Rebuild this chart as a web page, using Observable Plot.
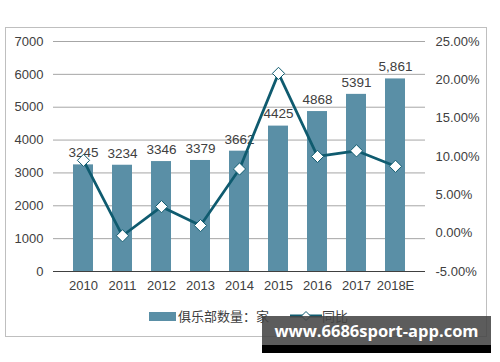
<!DOCTYPE html>
<html>
<head>
<meta charset="utf-8">
<script src="https://cdn.jsdelivr.net/npm/d3@7"></script>
<script src="https://cdn.jsdelivr.net/npm/@observablehq/plot@0.6"></script>
<style>
  html, body { margin: 0; padding: 0; background: #fff; }
  #wrap { position: relative; width: 500px; height: 362px; overflow: hidden; font-family: "Liberation Sans", Arial, sans-serif; }
  #frame { position: absolute; left: 5px; top: 27px; width: 482px; height: 310px; border: 1px solid #bfbfbf; box-sizing: border-box; }
  #chart { position: absolute; left: 0; top: 0; }
  #legend { position: absolute; left: 0; top: 306px; width: 500px; height: 20px; font-family: "Noto Sans CJK SC", sans-serif; font-size: 13px; color: #404040; }
  .sw { position: absolute; }
  #wm { position: absolute; left: 262px; top: 316px; width: 229px; height: 29px; background: rgba(70,70,70,0.88); color: #fff; font-family: "Open Sans", "DejaVu Sans", sans-serif; font-weight: bold; font-size: 16.5px; line-height: 29px; text-align: center; white-space: nowrap; }
  #wmb { position: absolute; left: 262px; top: 345px; width: 229px; height: 8px; background: #000; }
</style>
</head>
<body>
<div id="wrap">
  <div id="frame"></div>
  <div id="chart"></div>
  <div id="legend"></div>
  <div id="wm">www.6686sport-app.com</div>
  <div id="wmb"></div>
</div>
<script>
const years = ["2010","2011","2012","2013","2014","2015","2016","2017","2018E"];
const clubs = [3245, 3234, 3346, 3379, 3662, 4425, 4868, 5391, 5861];
const clubLabels = ["3245","3234","3346","3379","3662","4425","4868","5391","5,861"];
const growth = [9.5, -0.34, 3.46, 0.99, 8.37, 20.84, 10.01, 10.74, 8.72];
const leftTicks = [0,1000,2000,3000,4000,5000,6000,7000];
const rightTicks = [-5,0,5,10,15,20,25];
const seriesNames = ["俱乐部数量：家", "同比"];

const Y_MAX = 7000, P_MIN = -5, P_MAX = 25;
const pctToY = p => (p - P_MIN) / (P_MAX - P_MIN) * Y_MAX;
const yToPct = y => y / Y_MAX * (P_MAX - P_MIN) + P_MIN;

const rows = years.map((y, i) => ({year: y, clubs: clubs[i], label: clubLabels[i], growth: growth[i], gy: pctToY(growth[i])}));

const barColor = "#5a8fa6";
const lineColor = "#0f5b6f";
const txt = "#404040";

const chart = Plot.plot({
  width: 500,
  height: 362,
  marginLeft: 53,
  marginRight: 75,
  marginTop: 41,
  marginBottom: 91,
  style: {fontFamily: "'Liberation Sans', Arial, sans-serif", fontSize: "13px", color: txt, background: "transparent"},
  x: {domain: years, padding: 0.5, label: null},
  y: {domain: [0, Y_MAX], label: null},
  marks: [
    Plot.ruleY(leftTicks.filter(d => d > 0), {stroke: "#a6a6a6", strokeWidth: 1}),
    Plot.barY(rows, {x: "year", y: "clubs", fill: barColor}),
    Plot.ruleY([0], {stroke: "#404040", strokeWidth: 1}),
    Plot.text(rows, {x: "year", y: "clubs", text: "label", dy: -12, fill: txt, fontSize: 13.5}),
    Plot.line(rows, {x: "year", y: "gy", stroke: lineColor, strokeWidth: 2.75}),
    Plot.dot(rows, {x: "year", y: "gy", symbol: "diamond2", r: 5.5, fill: "#fff", stroke: lineColor, strokeWidth: 1}),
    Plot.axisY(leftTicks, {anchor: "left", tickSize: 0, tickPadding: 10, label: null, fontSize: 13, tickFormat: d => String(d)}),
    Plot.axisY(rightTicks.map(pctToY), {anchor: "right", tickSize: 0, tickPadding: 10, label: null, fontSize: 13, tickFormat: d => yToPct(d).toFixed(2) + "%"}),
    Plot.axisX({tickSize: 0, tickPadding: 9, label: null, fontSize: 13})
  ]
});
document.getElementById("chart").appendChild(chart);

// legend
const legend = document.getElementById("legend");
legend.innerHTML =
  `<div class="sw" style="left:149px;top:6px;width:27px;height:9px;background:${barColor}"></div>` +
  `<div class="sw" style="left:178px;top:0px;line-height:20px;white-space:nowrap">${seriesNames[0]}</div>` +
  `<svg class="sw" style="left:290px;top:0px" width="32" height="20"><line x1="0" x2="32" y1="10" y2="10" stroke="${lineColor}" stroke-width="3"/><path d="M16,5.5L20.5,10L16,14.5L11.5,10Z" fill="#fff" stroke="${lineColor}" stroke-width="1"/></svg>` +
  `<div class="sw" style="left:322px;top:0px;line-height:20px;white-space:nowrap">${seriesNames[1]}</div>`;
</script>
</body>
</html>
